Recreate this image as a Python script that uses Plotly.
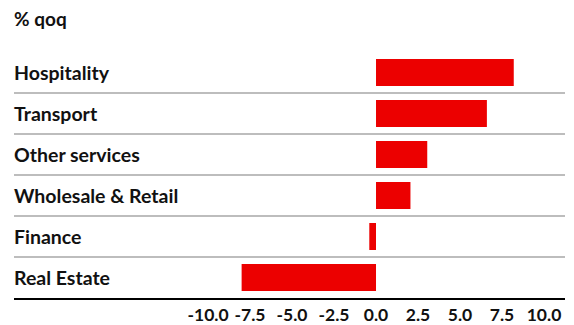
import plotly.graph_objects as go

categories = ["Hospitality", "Transport", "Other services", "Wholesale & Retail", "Finance", "Real Estate"]
values = [8.2, 6.6, 3.05, 2.05, -0.4, -8.0]
tick_vals = [-10.0, -7.5, -5.0, -2.5, 0.0, 2.5, 5.0, 7.5, 10.0]
tick_text = ["-10.0", "-7.5", "-5.0", "-2.5", "0.0", "2.5", "5.0", "7.5", "10.0"]
title_text = "% qoq"

FONT = "Lato"
fig = go.Figure()
fig.add_trace(go.Bar(
    x=values, y=categories, orientation="h",
    marker=dict(color="#EC0000", line=dict(width=0)),
    width=0.66,
))

shapes = []
for i in range(len(categories) - 1):
    shapes.append(dict(type="line", xref="paper", yref="y", x0=0, x1=1,
                       y0=i + 0.5, y1=i + 0.5,
                       line=dict(color="#BDBDBD", width=2), layer="below"))

annotations = []
for c in categories:
    annotations.append(dict(text=c, xref="paper", yref="y", x=0, y=c, xshift=-2,
                            xanchor="left", yanchor="middle", showarrow=False,
                            font=dict(family=FONT, size=19.5, color="#111111", weight="bold")))
annotations.append(dict(text=title_text, xref="paper", yref="paper", x=0, y=1,
                        yshift=34, xshift=-2, xanchor="left", yanchor="middle", showarrow=False,
                        font=dict(family=FONT, size=19, color="#111111", weight="bold")))

fig.update_layout(
    width=574, height=325,
    margin=dict(l=14, r=9, t=52, b=27, pad=0),
    plot_bgcolor="white", paper_bgcolor="white",
    showlegend=False,
    shapes=shapes, annotations=annotations,
    xaxis=dict(range=[-21.55, 11.25], tickvals=tick_vals, ticktext=tick_text,
               showgrid=False, zeroline=False, showline=True, linecolor="#000000",
               linewidth=2, ticks="", fixedrange=True, automargin=False,
               tickfont=dict(family=FONT, size=17.5, color="#111111", weight="bold")),
    yaxis=dict(categoryorder="array", categoryarray=categories, automargin=False,
               range=[5.5, -0.5], showticklabels=False, showgrid=False,
               zeroline=False, showline=False, ticks=""),
)

fig.write_html("out.html")
